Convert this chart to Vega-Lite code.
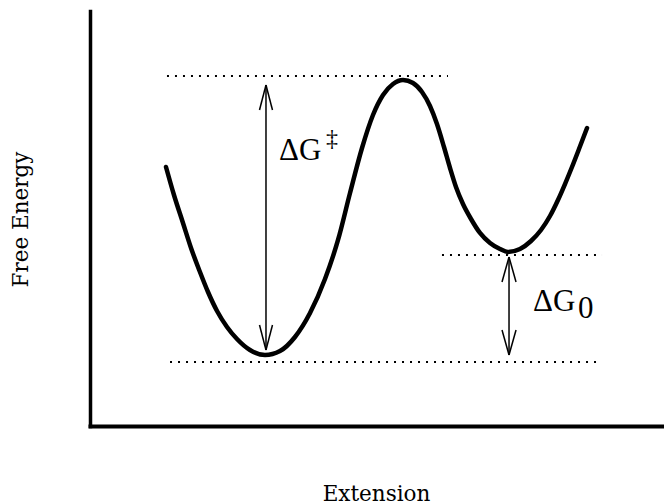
{
  "$schema": "https://vega.github.io/schema/vega-lite/v6.json",
  "width": 574,
  "height": 415,
  "autosize": "none",
  "padding": {"left": 90, "top": 11, "right": 0, "bottom": 78},
  "background": "white",
  "config": {
    "view": {"stroke": null},
    "axis": {
      "grid": false,
      "ticks": false,
      "labels": false,
      "domainColor": "black",
      "domainCap": "square",
      "titleFont": "'DejaVu Serif', serif",
      "titleFontSize": 21.5,
      "titleFontWeight": "normal",
      "titleColor": "black",
      "titleBaseline": "alphabetic"
    }
  },
  "datasets": {
    "curve": [
      {"x": 13.24, "y": 62.41}, {"x": 14.63, "y": 55.66}, {"x": 16.20, "y": 48.92},
      {"x": 17.60, "y": 42.89}, {"x": 19.16, "y": 37.11}, {"x": 20.56, "y": 32.29},
      {"x": 22.13, "y": 27.71}, {"x": 23.87, "y": 23.86}, {"x": 25.61, "y": 20.96},
      {"x": 27.87, "y": 18.31}, {"x": 30.49, "y": 17.11}, {"x": 33.10, "y": 18.07},
      {"x": 35.71, "y": 21.45}, {"x": 38.33, "y": 27.23}, {"x": 40.94, "y": 35.42},
      {"x": 43.21, "y": 44.82}, {"x": 45.30, "y": 56.14}, {"x": 47.39, "y": 66.99},
      {"x": 49.30, "y": 74.94}, {"x": 51.05, "y": 79.76}, {"x": 52.79, "y": 82.41},
      {"x": 54.53, "y": 83.37}, {"x": 56.27, "y": 82.65}, {"x": 57.84, "y": 80.48},
      {"x": 59.23, "y": 77.11}, {"x": 60.45, "y": 72.77}, {"x": 61.67, "y": 67.23},
      {"x": 62.72, "y": 62.17}, {"x": 63.76, "y": 57.59}, {"x": 64.98, "y": 53.49},
      {"x": 66.38, "y": 49.88}, {"x": 67.94, "y": 46.51}, {"x": 69.69, "y": 44.10},
      {"x": 71.43, "y": 42.65}, {"x": 72.82, "y": 41.93}, {"x": 74.91, "y": 42.65},
      {"x": 76.83, "y": 44.58}, {"x": 78.57, "y": 47.23}, {"x": 80.14, "y": 50.60},
      {"x": 81.53, "y": 54.46}, {"x": 82.75, "y": 58.31}, {"x": 83.97, "y": 62.41},
      {"x": 85.19, "y": 66.75}, {"x": 86.59, "y": 71.81}
    ],
    "levels": [
      {"x": 13.41, "x2": 62.37, "y": 84.34},
      {"x": 13.94, "x2": 89.20, "y": 15.42},
      {"x": 61.32, "x2": 89.20, "y": 41.20}
    ],
    "arrows": [
      {"x": 30.66, "y": 18.31, "x2": 30.66, "y2": 82.17},
      {"x": 30.66, "y": 82.17, "x2": 29.53, "y2": 76.14},
      {"x": 30.66, "y": 82.17, "x2": 31.79, "y2": 76.14},
      {"x": 30.66, "y": 18.31, "x2": 29.53, "y2": 24.34},
      {"x": 30.66, "y": 18.31, "x2": 31.79, "y2": 24.34},
      {"x": 73.00, "y": 17.11, "x2": 73.00, "y2": 40.72},
      {"x": 73.00, "y": 40.72, "x2": 71.78, "y2": 34.70},
      {"x": 73.00, "y": 40.72, "x2": 74.22, "y2": 34.70},
      {"x": 73.00, "y": 17.11, "x2": 71.78, "y2": 23.13},
      {"x": 73.00, "y": 17.11, "x2": 74.22, "y2": 23.13}
    ],
    "symbols": [
      {"x": 32.93, "y": 64.10, "text": "ΔG"},
      {"x": 77.18, "y": 27.71, "text": "ΔG"},
      {"x": 85.02, "y": 26.14, "text": "0"}
    ],
    "marks": [
      {"x": 41.11, "y": 67.47, "text": "‡"}
    ]
  },
  "layer": [
    {
      "data": {"name": "curve"},
      "mark": {"type": "line", "color": "black", "strokeWidth": 4.5, "strokeCap": "round", "strokeJoin": "round", "interpolate": "monotone"},
      "encoding": {
        "x": {
          "field": "x", "type": "quantitative", "title": "Extension",
          "scale": {"domain": [0, 100], "nice": false, "zero": false},
          "axis": {"domainWidth": 4, "titleX": 286, "titleY": 74}
        },
        "y": {
          "field": "y", "type": "quantitative", "title": "Free Energy",
          "scale": {"domain": [0, 100], "nice": false, "zero": false},
          "axis": {"domainWidth": 3.5, "titleX": -63, "titleY": 208, "titleAngle": -90}
        }
      }
    },
    {
      "data": {"name": "levels"},
      "mark": {"type": "rule", "color": "black", "strokeWidth": 1.8, "strokeDash": [2, 6]},
      "encoding": {
        "x": {"field": "x", "type": "quantitative"},
        "x2": {"field": "x2"},
        "y": {"field": "y", "type": "quantitative"}
      }
    },
    {
      "data": {"name": "arrows"},
      "mark": {"type": "rule", "color": "black", "strokeWidth": 1.5},
      "encoding": {
        "x": {"field": "x", "type": "quantitative"},
        "y": {"field": "y", "type": "quantitative"},
        "x2": {"field": "x2"},
        "y2": {"field": "y2"}
      }
    },
    {
      "data": {"name": "symbols"},
      "mark": {"type": "text", "font": "'Liberation Serif', 'Times New Roman', serif", "fontSize": 31, "align": "left", "baseline": "alphabetic", "color": "black"},
      "encoding": {
        "x": {"field": "x", "type": "quantitative"},
        "y": {"field": "y", "type": "quantitative"},
        "text": {"field": "text"}
      }
    },
    {
      "data": {"name": "marks"},
      "mark": {"type": "text", "font": "'Liberation Serif', 'Times New Roman', serif", "fontSize": 24, "align": "left", "baseline": "alphabetic", "color": "black"},
      "encoding": {
        "x": {"field": "x", "type": "quantitative"},
        "y": {"field": "y", "type": "quantitative"},
        "text": {"field": "text"}
      }
    }
  ]
}
